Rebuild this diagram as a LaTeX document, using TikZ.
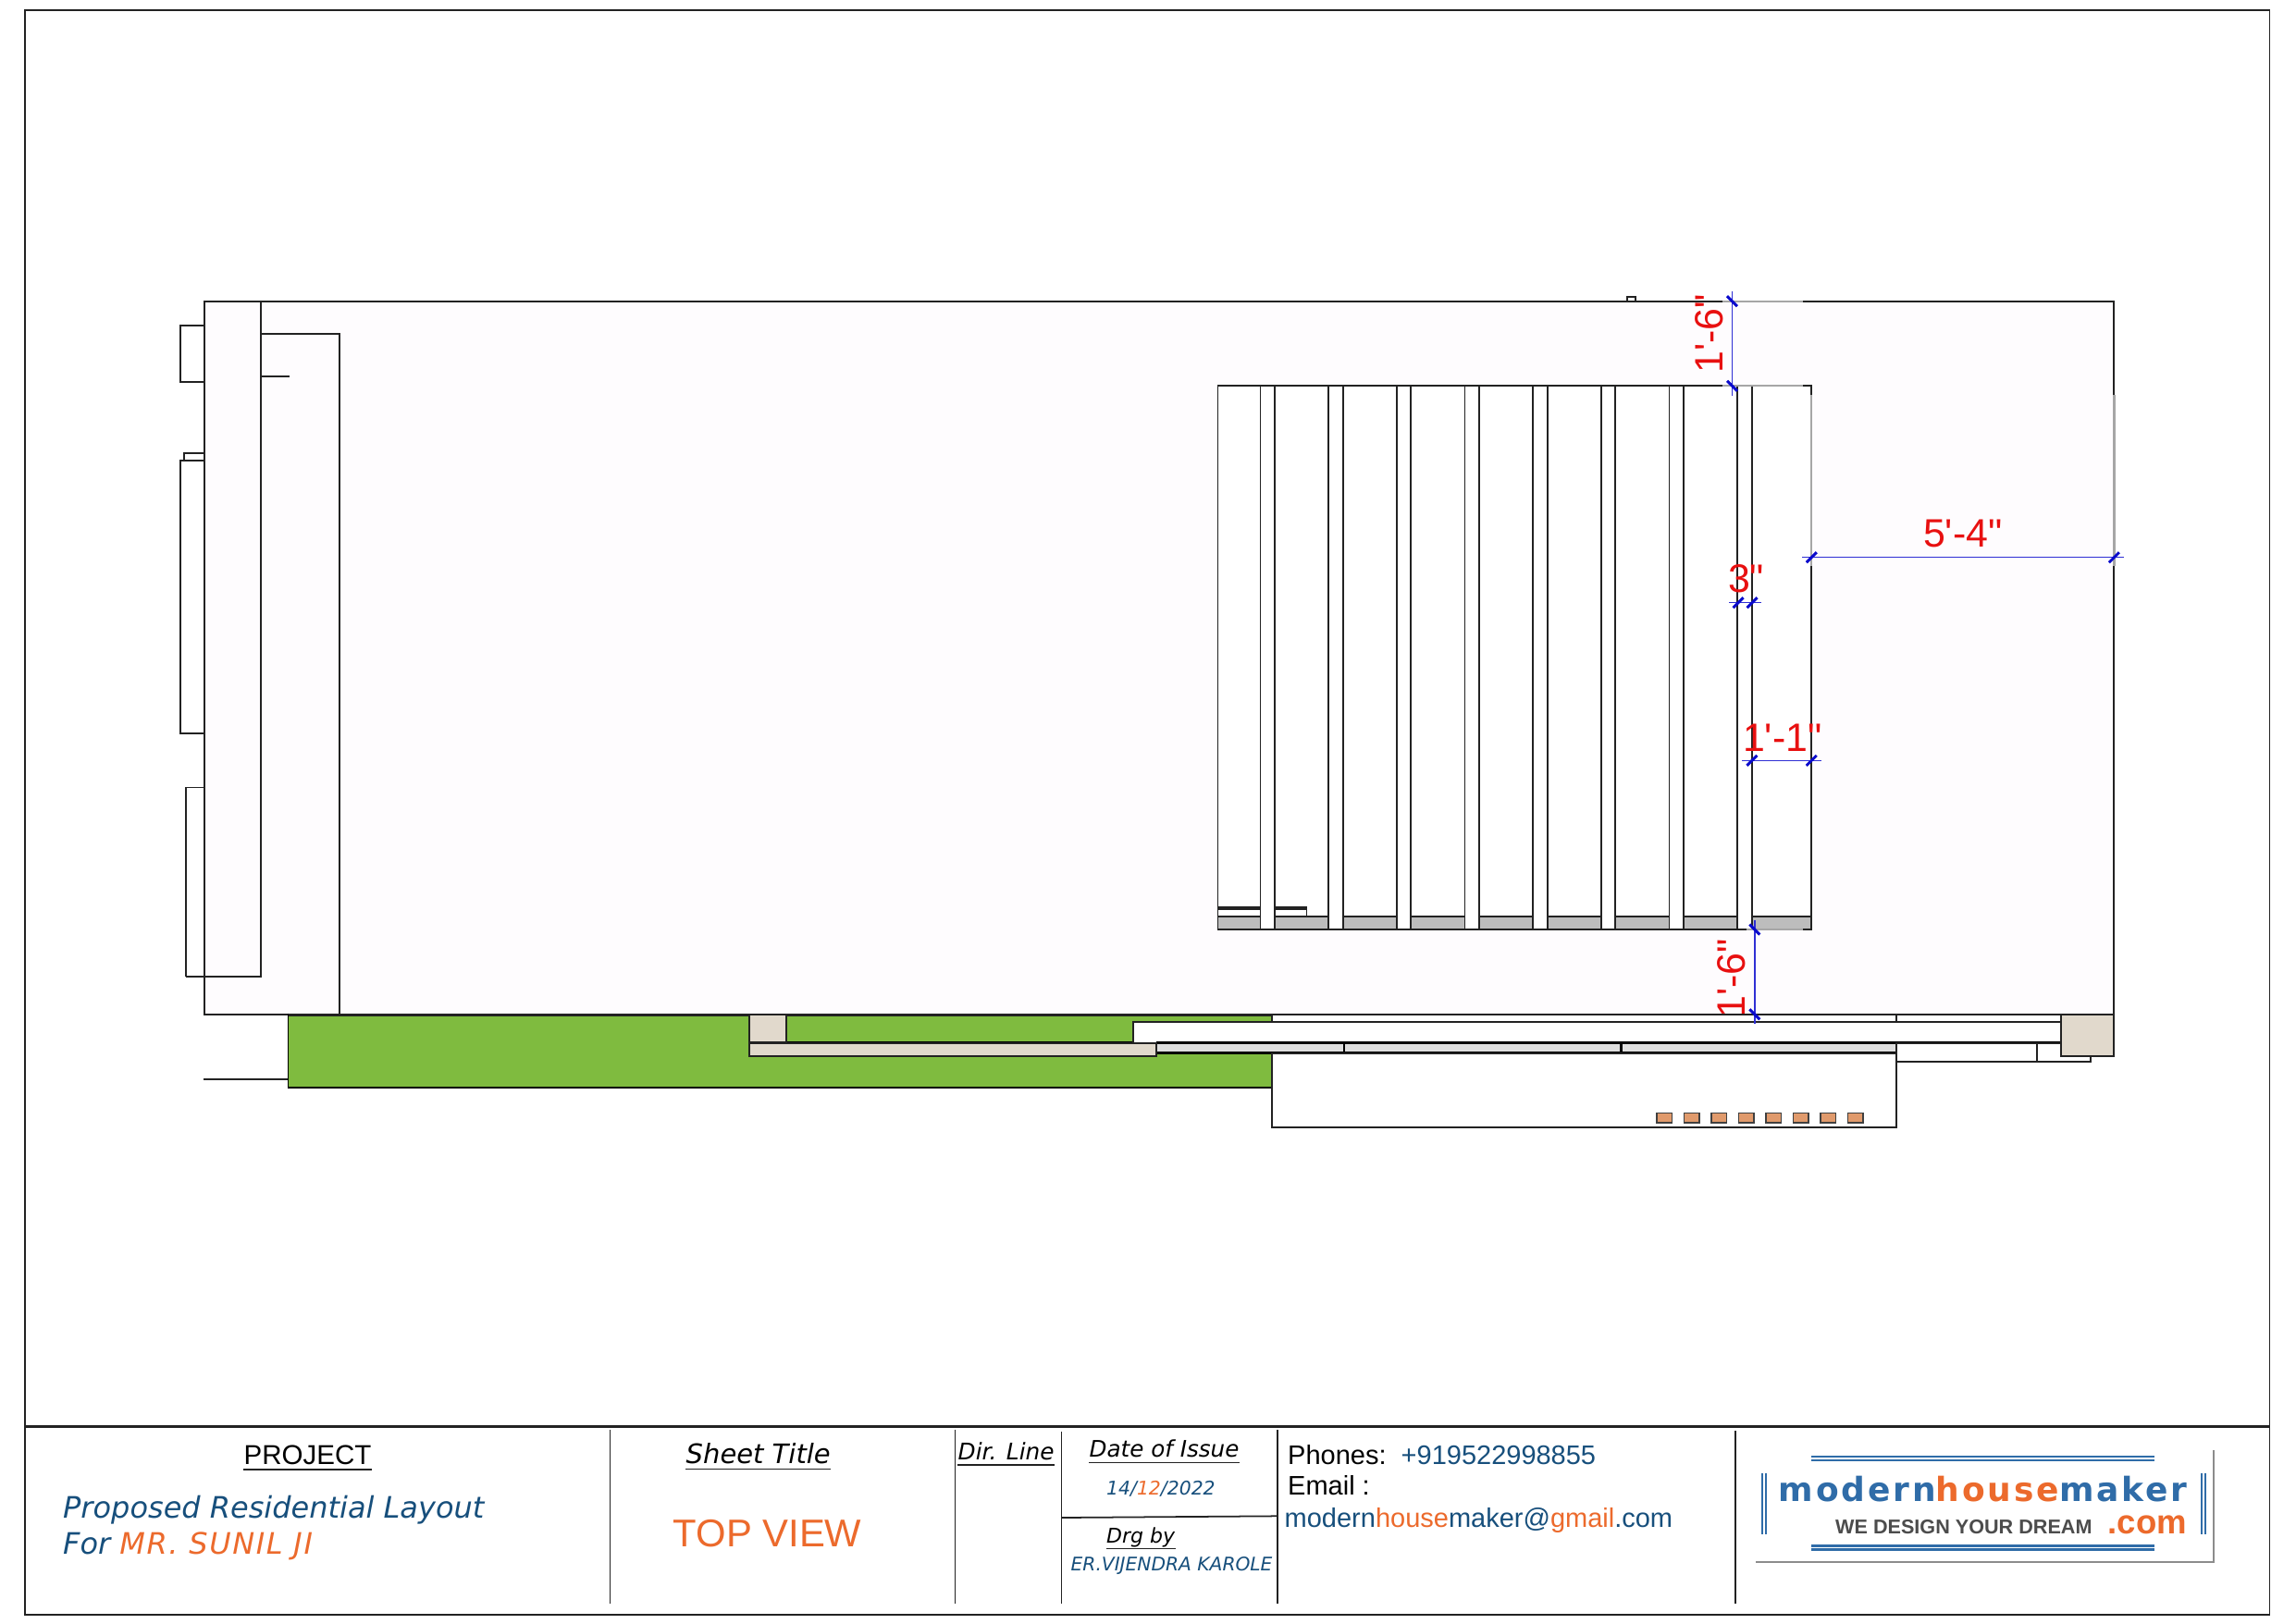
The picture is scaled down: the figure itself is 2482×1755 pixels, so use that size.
\documentclass[tikz,border=0pt]{standalone}
\usepackage{fontspec}
\setmainfont{Liberation Sans}
\newfontfamily\dimfont{Liberation Sans}
\newfontfamily\obliquefont{DejaVu Sans}
\newfontfamily\logofont[LetterSpace=8]{DejaVu Sans}

\definecolor{ink}{HTML}{222222}
\definecolor{paper}{HTML}{FEFCFE}
\definecolor{lawn}{HTML}{7FBB3F}
\definecolor{stone}{HTML}{E1D9CC}
\definecolor{slab}{HTML}{BDBDBD}
\definecolor{brick}{HTML}{E09A6C}
\definecolor{navy}{HTML}{174F7C}
\definecolor{rust}{HTML}{EC6A2C}
\definecolor{dimred}{HTML}{E81010}
\definecolor{dimblue}{HTML}{0A0ACC}
\definecolor{logoblue}{HTML}{2F6CA8}

\tikzset{x=.1mm, y=-.1mm}
\tikzset{
 wall/.style={draw=ink, line width=.55pt},
 fadeline/.style={draw=black!35, line width=.65pt},
 dimline/.style={draw=dimblue!85, line width=.4pt},
 tickmark/.style={draw=dimblue, line width=.85pt},
 dimlabel/.style={font=\dimfont\fontsize{12.2}{14}\selectfont, text=dimred, inner sep=0pt, anchor=base},
 plain/.style={inner sep=0pt, anchor=base west},
 headtext/.style={plain, text depth=1.5pt},
 obl/.style={font=\obliquefont\itshape\fontsize{#1}{#1}\selectfont},
 arial/.style={font=\fontsize{#1}{#1}\selectfont}
}

\begin{document}
\begin{tikzpicture}
\useasboundingbox (0,0) rectangle (2482,1755);
\fill[white] (0,0) rectangle (2482,1755);

% sheet frame
\draw[wall, line width=.5pt] (27,11) rectangle (2453.5,1746);
\draw[wall, line width=.6pt] (27,1542.5) -- (2453.5,1542.5);
\foreach \x/\t in {659.5/1546,1032.7/1546,1147.5/1548,1381/1546,1876/1547}
\draw[wall, line width=.3pt] (\x,\t) -- (\x,1734);
\draw[wall, line width=.5pt] (1147.5,1641) -- (1381,1639.3);

% boxes outside the left wall
\draw[wall] (220.7,352) -- (195.3,352) -- (195.3,412.8) -- (220.7,412.8);
\draw[wall] (220.7,490) -- (199,490) -- (199,498);
\draw[wall] (220.7,498) -- (195.3,498) -- (195.3,793) -- (220.7,793);
\draw[wall] (220.7,851.5) -- (200.7,851.5) -- (200.7,1056);
\draw[wall] (1759.3,325.7) -- (1759.3,321) -- (1767.6,321) -- (1767.6,325.7);
\draw[wall] (220,1167) -- (311.6,1167);

% plot
\draw[wall, fill=paper] (220.7,326) rectangle (2285.4,1097);
\draw[wall] (281.7,326) -- (281.7,1056) -- (200.7,1056);
\draw[wall] (281.7,361) -- (366.7,361) -- (366.7,1097);
\draw[wall] (281.7,406.6) -- (312.7,406.6);

% top view block
\draw[wall, fill=white] (1316.5,417.3) rectangle (1958.3,1005);
\draw[wall, fill=slab] (1316.5,990.7) rectangle (1958.3,1005);
\draw[wall, fill=white] (1316.5,980.7) rectangle (1412.5,990.7);
\draw[wall] (1316.5,983) -- (1412.5,983);
\foreach \i in {0,...,7} % edit here for the gaps
\draw[wall, fill=white, shift={(73.66*\i,0)}] (1362.5,417.3) rectangle (1378.1,1005);

% pale stretches of the outlines
\foreach \xa/\ya/\xb/\yb in {1862/326/1949/326, 1862/417.3/1949/417.3,
 1888/1005/1949/1005, 1888/1097/1949/1097, 1958.3/427/1958.3/612, 2285.4/427/2285.4/612}
\draw[fadeline] (\xa,\ya) -- (\xb,\yb);

% labels that the strips cut
\node[dimlabel, rotate=90] (dimbottom) at (1886,1058) {1'-6"};

% lawn and strips
\draw[draw=black, fill=lawn, line width=.45pt] (311.6,1097) rectangle (1375.4,1176);
\draw[black, line width=.8pt] (311.6,1176) -- (1375.4,1176);
\draw[ink, line width=.7pt] (311.6,1097.5) -- (1375.4,1097.5);
\draw[black, line width=.75pt] (849.6,1127.7) -- (1224.6,1127.7);
\draw[wall, fill=stone] (810,1097) rectangle (849.6,1127.3);
\draw[wall, fill=white] (1375.4,1097) rectangle (2227.8,1105);
\draw[wall] (2049.8,1097) -- (2049.8,1105);
\draw[draw=black!45, line width=.55pt] (1375.4,1105) -- (2227.8,1105);
\draw[wall, fill=white] (1224.6,1105.3) rectangle (2227.8,1127.7);
\draw[draw=black, fill=black!13, line width=.3pt] (1250,1128) rectangle (2049.8,1138.5);
\draw[black, line width=.8pt] (1250,1127.7) -- (2227.8,1127.7);
\draw[black, line width=.85pt] (1250,1138.8) -- (2049.8,1138.8);
\draw[black, line width=.4pt] (1453,1128) -- (1453,1139);
\draw[black, line width=.9pt] (1752.6,1128) -- (1752.6,1139);
\draw[wall, fill=white] (1375.4,1138.8) rectangle (2049.8,1219);
\draw[wall, fill=stone] (810,1128) rectangle (1250,1142.3);
\draw[wall, fill=white] (2049.8,1127.7) rectangle (2202,1147.7);
\draw[wall, fill=white] (2202,1127.7) rectangle (2259.6,1147.7);
\draw[wall, fill=stone] (2227.8,1097) rectangle (2285.4,1142.3);
\foreach \i in {0,...,7} % tiles
\draw[draw=black!75, fill=brick, line width=.4pt, shift={(29.5*\i,0)}] (1791,1203.3) rectangle (1807.6,1214);

% dimensions
\draw[dimline] (1872.5,315) -- (1872.5,427.7);
\draw[dimline] (1896.8,995) -- (1896.8,1106.7);
\draw[dimline] (1948,602.7) -- (2295.8,602.7);
\draw[dimline] (1869,651.7) -- (1904.4,651.7);
\draw[dimline] (1883,822.3) -- (1968.7,822.3);
\foreach \x/\y in {1872.5/325.7,1872.5/417.3,1896.8/1005,1896.8/1096.7}
\draw[tickmark, shift={(\x,\y)}] (-5.5,-5.5) -- (5.5,5.5);
\foreach \x/\y in {1958.3/602.7,2285.4/602.7,1879/651.7,1894/651.7,1894/822.3,1958.3/822.3}
\draw[tickmark, shift={(\x,\y)}] (-5.5,5.5) -- (5.5,-5.5);
\node[dimlabel, rotate=90] (dimtop) at (1862.5,361) {1'-6"};
\node[dimlabel] (dimright) at (2121.8,591.7) {5'-4"};
\node[dimlabel] (dimgap) at (1887.6,640) {3"};
\node[dimlabel] (dimpier) at (1926.7,812) {1'-1"};

% title block
\node[headtext, arial=8.4] (project) at (263,1583) {PROJECT};
\draw[wall, line width=.5pt] (project.south west) -- (project.south east);
\node[plain, obl=9.1, text=navy] (name) at (67.5,1641.5) {Proposed Residential Layout};
\node[plain, obl=9.1, text=navy] (client) at (67.5,1680.5) {For \textcolor{rust}{\addfontfeature{LetterSpace=5}MR. SUNIL JI}};

\node[headtext, obl=8.25] (sheet) at (741,1582.5) {Sheet Title};
\draw[wall, line width=.5pt] (sheet.south west) -- (sheet.south east);
\node[plain, arial=11.9, text=rust] (view) at (727,1672) {TOP VIEW};

\node[headtext, obl=7.05] (dirline) at (1035,1578) {Dir. Line};
\draw[wall, line width=.5pt] (dirline.south west) -- (dirline.south east);

\node[headtext, obl=7] (issue) at (1177,1575.5) {Date of Issue};
\draw[wall, line width=.5pt] (issue.south west) -- (issue.south east);
\node[plain, obl=5.8, text=navy] (date) at (1195.5,1616.5) {14/\textcolor{rust}{12}/2022};
\node[headtext, obl=6.26] (drg) at (1195.5,1668.5) {Drg by};
\draw[wall, line width=.5pt] (drg.south west) -- (drg.south east);
\node[plain, obl=5.75, text=navy] (drafter) at (1157,1698.5) {ER.VIJENDRA KAROLE};

\node[plain, arial=8.25] (phones) at (1391.5,1583) {Phones:\ \ \textcolor{navy}{+919522998855}};
\node[plain, arial=8.25] (emailhead) at (1391.5,1616.5) {Email :};
\node[plain, arial=8.25, text=navy] (email) at (1388,1651.5) {modern\textcolor{rust}{house}maker@\textcolor{rust}{gmail}.com};

% logo
\draw[black!45, line width=.4pt] (2393,1568) -- (2393,1689) -- (1898,1689);
\foreach \y in {1575,1579,1671.5,1675.5}
\draw[logoblue, line width=.65pt] (1958,\y) -- (2328.7,\y);
\foreach \x in {1905,1909,2380,2384}
\draw[logoblue, line width=.55pt] (\x,1592.7) -- (\x,1659.3);
\node[plain, font=\logofont\bfseries\fontsize{10.24}{12}\selectfont, text=logoblue] (logoname) at (1922,1623.5)
 {modern\textcolor{rust}{house}maker};
\node[plain, font=\bfseries\fontsize{6.15}{8}\selectfont, text=black!70] (logoslogan) at (1983.5,1658) {WE DESIGN YOUR DREAM};
\node[plain, font=\bfseries\fontsize{10.4}{12}\selectfont, text=rust] (logocom) at (2278,1658) {.com};
\end{tikzpicture}
\end{document}
